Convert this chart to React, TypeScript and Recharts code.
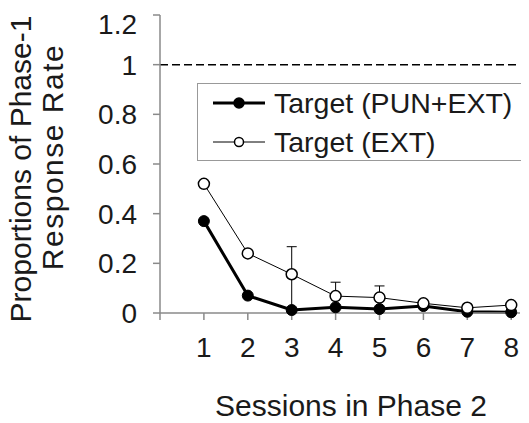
import React from 'react';
import { LineChart, Line, XAxis, YAxis, ReferenceLine, ErrorBar } from 'recharts';

const sessions = [1, 2, 3, 4, 5, 6, 7, 8];
const punExt = [0.37, 0.07, 0.012, 0.023, 0.016, 0.028, 0.005, 0.003];
const punExtErr = [null, null, 0.255, null, null, null, null, null];
const ext = [0.52, 0.24, 0.156, 0.068, 0.062, 0.039, 0.021, 0.032];
const extErr = [null, null, null, 0.056, 0.047, null, null, null];
const xTicks = [0, 1, 2, 3, 4, 5, 6, 7, 8];
const yTicks = [0, 0.2, 0.4, 0.6, 0.8, 1, 1.2];

const data = sessions.map((s, i) => ({
  session: s,
  pun: punExt[i],
  punErr: punExtErr[i] == null ? null : [0, punExtErr[i]],
  ext: ext[i],
  extErr: extErr[i] == null ? null : [0, extErr[i]],
}));

const FONT = '"Liberation Sans", Arial, sans-serif';
const TEXT = '#1a1a1a';
const AXIS = '#8a8a8a';

const legendItems = [
  { name: 'Target (PUN+EXT)', width: 3, fill: '#000' },
  { name: 'Target (EXT)', width: 1, fill: '#fff' },
];

const YTitle = () => (
  <g fontFamily={FONT} fontSize={30} fill={TEXT}>
    <text transform="translate(12,161) rotate(-90)" textAnchor="middle" dominantBaseline="central">
      Proportions of Phase-1
    </text>
    <text
      transform="translate(44,149) rotate(-90)"
      textAnchor="middle"
      dominantBaseline="central"
      letterSpacing={1.5}
    >
      Response Rate
    </text>
  </g>
);

const XTitle = () => (
  <text x={343} y={397} textAnchor="middle" dominantBaseline="central" fontFamily={FONT} fontSize={30} fill={TEXT}>
    Sessions in Phase 2
  </text>
);

export default function App() {
  return (
    <div style={{ position: 'relative', width: 521, height: 415 }}>
      <LineChart width={521} height={415} data={data} margin={{ top: 7, right: 9, left: 0, bottom: 0 }}>
        <XAxis
          dataKey="session"
          type="number"
          domain={[0, 8.2]}
          ticks={xTicks}
          tickFormatter={(v) => (v === 0 ? '' : String(v))}
          height={110}
          stroke={AXIS}
          strokeWidth={1.5}
          tickSize={7}
          tickMargin={17}
          tick={{ fill: TEXT, fontSize: 28, fontFamily: FONT }}
          label={{ content: XTitle }}
        />
        <YAxis
          type="number"
          domain={[0, 1.2]}
          ticks={yTicks}
          width={152}
          stroke={AXIS}
          strokeWidth={1.5}
          tickSize={7}
          tickMargin={16}
          tick={{ fill: TEXT, fontSize: 28, fontFamily: FONT }}
          label={{ content: YTitle }}
        />
        <ReferenceLine y={1} stroke="#000" strokeWidth={1.5} strokeDasharray="8 4" />
        <Line
          dataKey="pun"
          stroke="#000"
          strokeWidth={3}
          dot={{ r: 5.5, fill: '#000', stroke: '#000', strokeWidth: 1 }}
          isAnimationActive={false}
        >
          <ErrorBar dataKey="punErr" direction="y" width={5} stroke="#000" strokeWidth={1} />
        </Line>
        <Line
          dataKey="ext"
          stroke="#000"
          strokeWidth={1}
          dot={{ r: 5.5, fill: '#fff', stroke: '#000', strokeWidth: 1.5 }}
          isAnimationActive={false}
        >
          <ErrorBar dataKey="extErr" direction="y" width={5} stroke="#000" strokeWidth={1} />
        </Line>
      </LineChart>
      <div
        style={{
          position: 'absolute',
          left: 189,
          top: 75,
          width: 327,
          height: 76,
          border: '1px solid #999',
          background: '#fff',
          fontFamily: FONT,
          fontSize: 28.5,
          color: TEXT,
        }}
      >
        {legendItems.map((it, i) => (
          <div
            key={it.name}
            style={{
              position: 'absolute',
              left: 14,
              top: i === 0 ? 2 : 41,
              height: 34,
              display: 'flex',
              alignItems: 'center',
              whiteSpace: 'nowrap',
            }}
          >
            <svg width={56} height={20} style={{ marginRight: 6 }}>
              <line x1={1} y1={10} x2={53} y2={10} stroke="#000" strokeWidth={it.width} />
              <circle cx={27} cy={10} r={it.width > 1 ? 5 : 4.5} fill={it.fill} stroke="#000" strokeWidth={1.5} />
            </svg>
            <span>{it.name}</span>
          </div>
        ))}
      </div>
    </div>
  );
}
